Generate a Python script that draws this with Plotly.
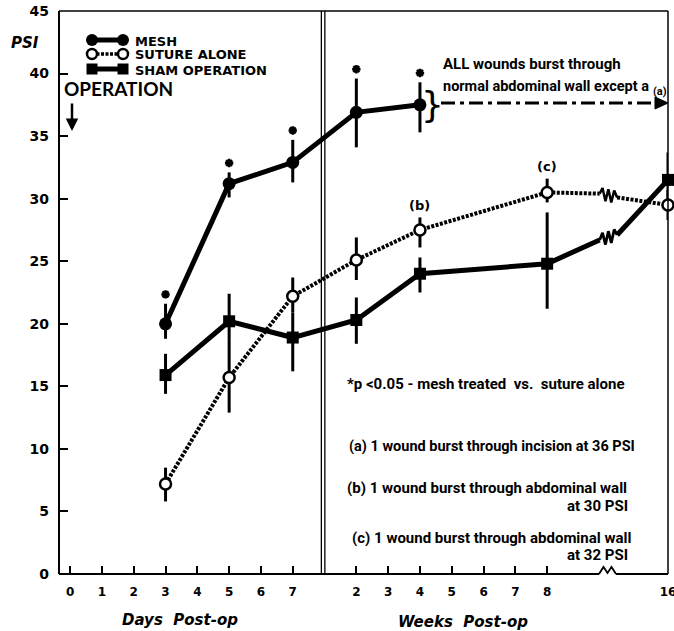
import plotly.graph_objects as go

# ---------------- data ----------------
day_ticks = [0, 1, 2, 3, 4, 5, 6, 7]
day_tick_labels = ["0", "1", "2", "3", "4", "5", "6", "7"]
week_tick_labels = ["2", "3", "4", "5", "6", "7", "8", "16"]
week_tick_pos = [9, 10, 11, 12, 13, 14, 15, 18.8]   # axis positions (broken axis)

# time points: day 3, 5, 7, week 2, 4, 8, 16
time_pos = [3, 5, 7, 9, 11, 15, 18.8]

mesh_y = [20.0, 31.2, 32.9, 36.9, 37.5]
mesh_ep = [1.6, 0.9, 1.8, 2.7, 1.8]
mesh_em = [1.2, 1.1, 1.6, 2.8, 2.2]

suture_y = [7.2, 15.7, 22.2, 25.1, 27.5, 30.5, 29.5]
suture_ep = [1.3, 3.0, 1.5, 1.8, 1.0, 1.1, 1.2]
suture_em = [1.4, 2.8, 1.3, 1.6, 1.4, 0.8, 1.2]

sham_y = [15.9, 20.2, 18.9, 20.3, 24.0, 24.8, 31.5]
sham_ep = [1.7, 2.2, 2.0, 1.8, 1.3, 4.1, 2.2]
sham_em = [1.5, 1.5, 2.7, 1.9, 1.5, 3.6, 2.2]

break_pos = [16.65, 17.2]
suture_break_y = [30.4, 30.1]
sham_break_y = [26.7, 27.1]

y_ticks = [0, 5, 10, 15, 20, 25, 30, 35, 40, 45]

# ---------------- geometry helpers ----------------
L, R, T, B = 59, 668, 11, 574
W_, H_ = 674, 631


def PX(x):
    return (x - L) / (R - L)


def PY(y):
    return (B - y) / (B - T)


def split_with_break(ys, brk):
    xs = list(time_pos[:6]) + [break_pos[0], None, break_pos[1], time_pos[6]]
    yy = list(ys[:6]) + [brk[0], None, brk[1], ys[6]]
    return xs, yy


def zigzag(brk, n=5, amp=0.5):
    xs, yy = [break_pos[0]], [brk[0]]
    for i in range(1, n + 1):
        t = i / (n + 1)
        xs.append(break_pos[0] + (break_pos[1] - break_pos[0]) * t)
        yy.append(brk[0] + (brk[1] - brk[0]) * t + (amp if i % 2 else -amp))
    xs.append(break_pos[1])
    yy.append(brk[1])
    return xs, yy


COND = "Roboto, Liberation Sans, sans-serif"

fig = go.Figure()

# ---------------- lines ----------------
sx, sy = split_with_break(suture_y, suture_break_y)
fig.add_trace(go.Scatter(x=sx, y=sy, mode="lines", connectgaps=False,
                         line=dict(color="black", width=4, dash="3px,1.5px"),
                         hoverinfo="skip"))
zx, zy = zigzag(suture_break_y)
fig.add_trace(go.Scatter(x=zx, y=zy, mode="lines",
                         line=dict(color="black", width=2.5), hoverinfo="skip"))
hx, hy = split_with_break(sham_y, sham_break_y)
fig.add_trace(go.Scatter(x=hx, y=hy, mode="lines", connectgaps=False,
                         line=dict(color="black", width=5), hoverinfo="skip"))
zx, zy = zigzag(sham_break_y)
fig.add_trace(go.Scatter(x=zx, y=zy, mode="lines",
                         line=dict(color="black", width=2.8), hoverinfo="skip"))
fig.add_trace(go.Scatter(x=time_pos[:5], y=mesh_y, mode="lines",
                         line=dict(color="black", width=5), hoverinfo="skip"))

# ---------------- markers + error bars ----------------
eb = dict(type="data", symmetric=False, color="black", thickness=3, width=0)
fig.add_trace(go.Scatter(x=time_pos, y=sham_y, mode="markers",
                         marker=dict(symbol="square", size=12, color="black"),
                         error_y=dict(eb, array=sham_ep, arrayminus=sham_em),
                         cliponaxis=False))
fig.add_trace(go.Scatter(x=time_pos, y=suture_y, mode="markers",
                         marker=dict(symbol="circle", size=11, color="white",
                                     line=dict(color="black", width=2.5)),
                         error_y=dict(eb, array=suture_ep, arrayminus=suture_em),
                         cliponaxis=False))
fig.add_trace(go.Scatter(x=time_pos[:5], y=mesh_y, mode="markers",
                         marker=dict(symbol="circle", size=13, color="black"),
                         error_y=dict(eb, array=mesh_ep, arrayminus=mesh_em),
                         cliponaxis=False))

# significance stars above mesh error bars
star_y = [v + e + 0.75 for v, e in zip(mesh_y, mesh_ep)]
fig.add_trace(go.Scatter(x=time_pos[:5], y=star_y, mode="markers",
                         marker=dict(symbol="asterisk-open", size=7, color="black",
                                     line=dict(color="black", width=2.5)),
                         hoverinfo="skip"))

# ---------------- legend glyphs (pixel-space overlay axis) ----------------
leg_rows = [("MESH", 40, 41), ("SUTURE ALONE", 54, 54), ("SHAM OPERATION", 69, 70)]
fig.add_trace(go.Scatter(x=[92, 123], y=[40, 40], mode="lines+markers", xaxis="x2", yaxis="y2",
                         line=dict(color="black", width=5),
                         marker=dict(symbol="circle", size=12, color="black"),
                         cliponaxis=False, hoverinfo="skip"))
fig.add_trace(go.Scatter(x=[92, 123], y=[54, 54], mode="lines+markers", xaxis="x2", yaxis="y2",
                         line=dict(color="black", width=3.5, dash="3px,1.5px"),
                         marker=dict(symbol="circle", size=10, color="white",
                                     line=dict(color="black", width=2.5)),
                         cliponaxis=False, hoverinfo="skip"))
fig.add_trace(go.Scatter(x=[92, 123], y=[69, 69], mode="lines+markers", xaxis="x2", yaxis="y2",
                         line=dict(color="black", width=5),
                         marker=dict(symbol="square", size=11, color="black"),
                         cliponaxis=False, hoverinfo="skip"))

annotations = []


def ann(px, py, text, size, family="DejaVu Sans", weight=700, style="normal",
        xanchor="left", yanchor="middle"):
    annotations.append(dict(x=PX(px), y=PY(py), xref="paper", yref="paper", text=text,
                            showarrow=False, xanchor=xanchor, yanchor=yanchor,
                            font=dict(family=family, size=size, color="black",
                                      weight=weight, style=style)))


for label, gy, ty in leg_rows:
    ann(133, ty, label, 13)

ann(25, 43, "PSI", 15, style="italic", xanchor="center")
ann(62, 88, "OPERATION", 19, family="Lato")
annotations.append(dict(x=PX(72), y=PY(131), xref="paper", yref="paper", text="",
                        showarrow=True, ax=0, ay=-29, arrowhead=2, arrowsize=1,
                        arrowwidth=2.5, arrowcolor="black"))

ann(441, 64, "ALL wounds burst through", 15, family=COND)
ann(441, 86, "normal abdominal wall except a", 14.5, family=COND)
ann(660, 91, "(a)", 11, family=COND, xanchor="center")
ann(432, 104, "}", 36, weight=400, xanchor="center")

ann(345, 384, "*p &lt;0.05 - mesh treated  vs.  suture alone", 15, family=COND)
ann(347, 446, "(a) 1 wound burst through incision at 36 PSI", 14.5, family=COND)
ann(345, 488, "(b) 1 wound burst through abdominal wall", 15, family=COND)
ann(630, 506, "at 30 PSI", 15, family=COND, xanchor="right")
ann(350, 538, "(c) 1 wound burst through abdominal wall", 15, family=COND)
ann(630, 555, "at 32 PSI", 15, family=COND, xanchor="right")

ann(180, 620, "Days  Post-op", 15, style="italic", xanchor="center")
ann(463, 622, "Weeks  Post-op", 15, style="italic", xanchor="center")

# (b) and (c) labels tied to the suture points
for idx, lab in [(4, "(b)"), (5, "(c)")]:
    annotations.append(dict(x=time_pos[idx], y=suture_y[idx] + suture_ep[idx] + 0.95,
                            xref="x", yref="y", text=lab, showarrow=False,
                            font=dict(family="DejaVu Sans", size=13, color="black", weight=700)))

# ---------------- shapes ----------------
shapes = []


def pline(x0, y0, x1, y1, w=2, dash=None):
    d = dict(type="line", xref="paper", yref="paper", x0=PX(x0), y0=PY(y0),
             x1=PX(x1), y1=PY(y1), line=dict(color="black", width=w))
    if dash:
        d["line"]["dash"] = dash
    shapes.append(d)


# frame
pline(L, T, L, B, 2)
pline(L, T, R, T, 1.5)
pline(R, T, R, B, 1.5)
pline(L, B, 599, B, 2)
pline(616, B, R, B, 2)
zz = [(599, 574), (603.5, 567), (607.5, 573), (611.5, 567), (616, 574)]
shapes.append(dict(type="path", xref="paper", yref="paper",
                   path="M " + " L ".join(f"{PX(x):.5f},{PY(y):.5f}" for x, y in zz),
                   line=dict(color="black", width=1.8)))

# double vertical separator between days and weeks
for xv in (7.9, 8.01):
    shapes.append(dict(type="line", xref="x", yref="paper", x0=xv, x1=xv, y0=0, y1=1,
                       line=dict(color="black", width=1.3)))

# dash-dot arrow
pline(441, 103, 656, 103, 3, dash="14px,5px,4px,5px")
tri = [(655, 97), (668, 103), (655, 109)]
shapes.append(dict(type="path", xref="paper", yref="paper",
                   path="M " + " L ".join(f"{PX(x):.5f},{PY(y):.5f}" for x, y in tri) + " Z",
                   fillcolor="black", line=dict(color="black", width=1)))

fig.update_layout(
    width=W_, height=H_,
    margin=dict(l=L, r=W_ - R, t=T, b=H_ - B, pad=0, autoexpand=False),
    plot_bgcolor="white", paper_bgcolor="white",
    showlegend=False,
    xaxis=dict(range=[-0.35, 18.8], tickvals=day_ticks + week_tick_pos,
               ticktext=day_tick_labels + week_tick_labels,
               ticks="inside", ticklen=8, tickwidth=2, tickcolor="black",
               showgrid=False, zeroline=False, showline=False, automargin=False,
               tickfont=dict(family="DejaVu Sans", size=12, color="black", weight=700),
               ticklabelstandoff=9, ticklabeloverflow="allow"),
    yaxis=dict(range=[0, 45], tickvals=y_ticks, ticktext=[str(v) for v in y_ticks],
               ticks="inside", ticklen=9, tickwidth=2, tickcolor="black",
               showgrid=False, zeroline=False, showline=False, automargin=False,
               tickfont=dict(family="DejaVu Sans", size=14, color="black", weight=700),
               ticklabelstandoff=9),
    xaxis2=dict(overlaying="x", range=[L, R], visible=False),
    yaxis2=dict(overlaying="y", range=[B, T], visible=False),
    annotations=annotations,
    shapes=shapes,
)

fig.write_html("out.html", config={"displayModeBar": False},
               post_script="document.body.style.margin='0';document.body.style.padding='0';"
                           "document.documentElement.style.overflow='hidden';")
